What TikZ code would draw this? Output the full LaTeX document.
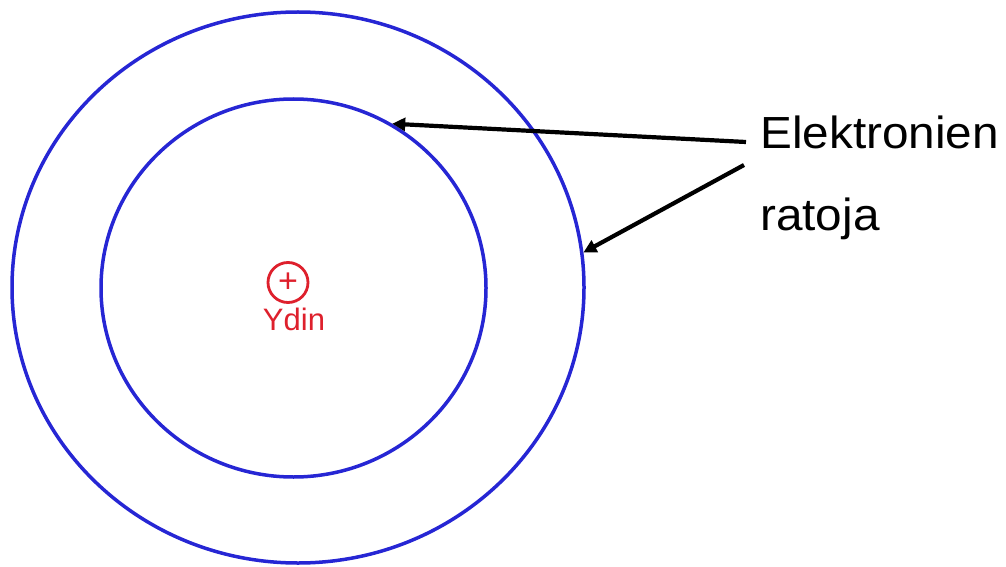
\documentclass[tikz,border=0pt]{standalone}
\usepackage{fontspec}
\setmainfont{Liberation Sans}
\usepackage{tikz}
\usetikzlibrary{shapes.geometric,arrows.meta}
\definecolor{orbitblue}{RGB}{38,38,212}
\definecolor{corered}{RGB}{222,32,44}

\begin{document}
\begin{tikzpicture}[x=1pt,y=-1pt,
  orbit/.style={draw=orbitblue, ellipse, line width=3.5pt, inner sep=0pt},
  pointer/.style={draw=black, line width=4.2pt, -{Triangle[length=13pt,width=13pt]}},
  lbl/.style={inner sep=0pt, anchor=base west, xscale=1.06,
              font=\fontsize{45}{54}\selectfont}]
\useasboundingbox (0,0) rectangle (1006,567);

\node[orbit, minimum width=572pt, minimum height=551pt] (outer) at (298,287.5) {};
\node[orbit, minimum width=385pt, minimum height=378pt] (inner) at (293.5,288) {};

% nucleus
\node[draw=corered, circle, line width=2.8pt, minimum size=40pt, inner sep=0pt,
      text=corered, font=\fontsize{34}{38}\selectfont] (core) at (288,282.5) {+};
\node[text=corered, inner sep=0pt, anchor=base, font=\fontsize{31}{36}\selectfont]
  (ydin) at (294,330) {Ydin};

\node[lbl] (elek) at (760,148) {Elektronien};
\node[lbl] (rat) at (760,230) {ratoja};

\coordinate (t1) at (746,142);
\coordinate (t2) at (744,165);
\draw[pointer] (t1) -- (inner.59);
\draw[pointer] (t2) -- (outer.7);
\end{tikzpicture}
\end{document}
